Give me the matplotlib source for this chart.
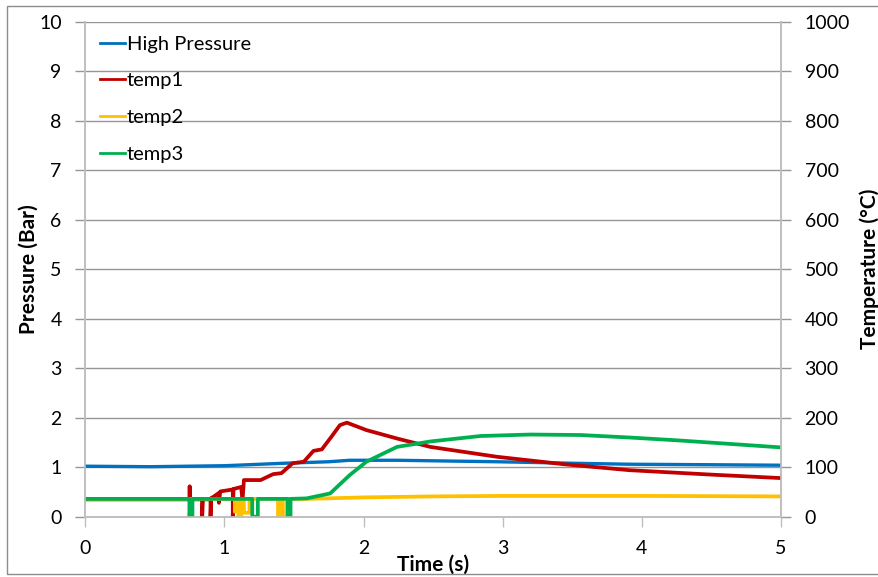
import matplotlib
matplotlib.use("Agg")
import matplotlib.pyplot as plt
from matplotlib.patches import Rectangle

# ---- data ----
time_p = [0, 0.47, 1.0, 1.43, 1.75, 1.90, 2.24, 2.96, 3.5, 3.91, 4.5, 5.0]
pressure = [1.02, 1.01, 1.03, 1.08, 1.11, 1.14, 1.14, 1.11, 1.08, 1.06, 1.05, 1.04]

temp1_t = [0, 0.75, 0.75, 0.75, 0.755, 0.84, 0.84, 0.845, 0.90, 0.90, 0.905, 0.92,
           0.96, 0.96, 0.97, 1.06, 1.06, 1.065, 1.12, 1.13, 1.14, 1.26, 1.35, 1.41,
           1.49, 1.57, 1.64, 1.70, 1.77, 1.83, 1.88, 2.02, 2.24, 2.48, 2.96, 3.44,
           3.91, 4.5, 5.0]
temp1 = [35, 35, 61, 0, 35, 35, 0, 35, 35, 0, 38, 40,
         48, 28, 51, 55, 0, 56, 60, 33, 74, 74, 86, 88,
         108, 111, 133, 136, 162, 185, 190, 175, 158, 141, 121, 106,
         94, 85, 78]

temp2_t = [0, 1.075, 1.075, 1.08, 1.10, 1.10, 1.12, 1.12, 1.14, 1.14, 1.18, 1.18,
           1.385, 1.385, 1.41, 1.41, 1.42, 1.42, 1.45, 1.45, 1.6, 2.0, 2.5, 3.0,
           4.0, 5.0]
temp2 = [36, 36, 10, 36, 36, 0, 0, 36, 36, 8, 8, 36,
         36, 0, 0, 36, 36, 0, 0, 36, 36, 39, 41, 42,
         42, 41]

temp3_t = [0, 0.75, 0.75, 0.77, 0.77, 1.20, 1.20, 1.24, 1.24, 1.455, 1.455, 1.475,
           1.475, 1.59, 1.76, 1.90, 2.02, 2.24, 2.48, 2.84, 3.2, 3.56, 3.91, 4.27, 5.0]
temp3 = [36, 36, 0, 0, 36, 36, 0, 0, 36, 36, 0, 0,
         36, 37, 47, 84, 111, 141, 152, 163, 166, 165, 160, 154, 140]

x_ticks = [0, 1, 2, 3, 4, 5]
p_ticks = list(range(0, 11))
t_ticks = list(range(0, 1001, 100))

# ---- style ----
plt.rcParams['font.family'] = ['Lato', 'DejaVu Sans']
C_BLUE, C_RED, C_YEL, C_GRN = '#0070C0', '#C00000', '#FFC000', '#00B050'
GRID = '#969696'
SPINE = '#BFBFBF'
TICK_FS = 14
LAB_FS = 15
LEG_FS = 14.5

fig = plt.figure(figsize=(8.79, 5.77), dpi=100)
ax = fig.add_axes([85.3 / 879, 1 - 516.7 / 577, (781 - 85.3) / 879, (516.7 - 21.7) / 577])
ax2 = ax.twinx()

l0, = ax.plot(time_p, pressure, color=C_BLUE, lw=2.4, label='High Pressure', zorder=3)
l1, = ax2.plot(temp1_t, temp1, color=C_RED, lw=2.7, label='temp1')
l2, = ax2.plot(temp2_t, temp2, color=C_YEL, lw=2.7, label='temp2')
l3, = ax2.plot(temp3_t, temp3, color=C_GRN, lw=2.7, label='temp3')

ax.set_xlim(0, 5)
ax.set_ylim(0, 10)
ax2.set_ylim(0, 1000)
ax.set_xticks(x_ticks)
ax.set_yticks(p_ticks)
ax2.set_yticks(t_ticks)

ax.yaxis.grid(True, color=GRID, lw=1)
ax.set_axisbelow(True)

for a in (ax, ax2):
    a.spines['top'].set_visible(False)
    for s in ('left', 'right', 'bottom'):
        a.spines[s].set_color(SPINE)
        a.spines[s].set_linewidth(1.2)

ax.tick_params(axis='y', length=7, width=1, color=GRID, pad=10, labelsize=TICK_FS)
ax.tick_params(axis='x', length=7, width=1, color=SPINE, pad=10, labelsize=TICK_FS)
ax2.tick_params(axis='y', length=7, width=1, color=GRID, pad=10, labelsize=TICK_FS)

ax.set_xlabel('Time (s)', fontsize=LAB_FS, fontweight='bold', labelpad=-2)
ax.set_ylabel('Pressure (Bar)', fontsize=LAB_FS, fontweight='bold', labelpad=0)
ax2.set_ylabel('Temperature (°C)', fontsize=LAB_FS, fontweight='bold', labelpad=6.5)

leg = ax2.legend(handles=[l0, l1, l2, l3], loc='upper left',
                 bbox_to_anchor=(0.021, 0.972), frameon=False, fontsize=LEG_FS,
                 handlelength=1.25, handletextpad=0.1, labelspacing=0.98,
                 borderaxespad=0, borderpad=0)
for h in leg.get_lines():
    h.set_linewidth(2)

# figure border
fig.patches.append(Rectangle((7 / 879, 3 / 577), 1.0, 1 - 9 / 577,
                             transform=fig.transFigure, fill=False,
                             edgecolor='#8C8C8C', lw=1))

fig.savefig('out.png', dpi=100)
